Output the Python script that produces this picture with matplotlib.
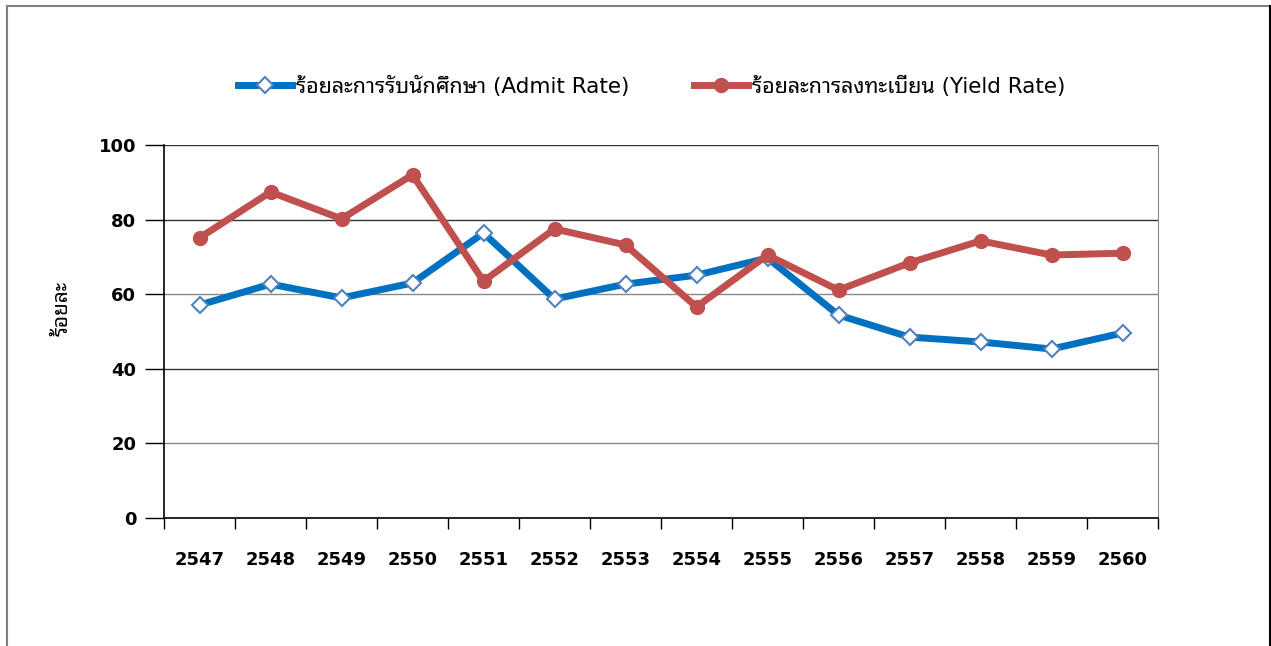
import matplotlib
matplotlib.use('Agg')
import matplotlib.pyplot as plt
from matplotlib import font_manager as fm
from matplotlib.lines import Line2D

years = ['2547', '2548', '2549', '2550', '2551', '2552', '2553',
         '2554', '2555', '2556', '2557', '2558', '2559', '2560']
admit_rate = [57.1, 62.7, 59.0, 63.0, 76.4, 58.7, 62.7, 65.1, 69.7, 54.4, 48.5, 47.2, 45.3, 49.6]
yield_rate = [75.1, 87.4, 80.2, 92.0, 63.5, 77.5, 73.2, 56.6, 70.5, 61.1, 68.4, 74.3, 70.5, 71.0]
admit_label = 'ร้อยละการรับนักศึกษา (Admit Rate)'
yield_label = 'ร้อยละการลงทะเบียน (Yield Rate)'
y_label = 'ร้อยละ'
y_ticks = [0, 20, 40, 60, 80, 100]

installed = {f.name for f in fm.fontManager.ttflist}
thai = next((n for n in ['Noto Sans Thai Looped', 'IBM Plex Sans Thai Looped', 'Noto Sans Thai',
                         'Sarabun', 'Anuphan', 'Bai Jamjuree'] if n in installed), 'DejaVu Sans')
latin = next((n for n in ['Tahoma', 'DejaVu Sans'] if n in installed), 'DejaVu Sans')
fam = [latin, thai]
plt.rcParams['font.family'] = fam

W, H = 1271, 646
fig = plt.figure(figsize=(W / 100, H / 100), dpi=100)
ax = fig.add_axes([164 / W, 1 - 518 / H, (1158 - 164) / W, (518 - 145) / H])

x = list(range(len(years)))
ax.plot(x, admit_rate, color='#0070C0', lw=5, marker='D', ms=8,
        mfc='white', mec='#4F81BD', mew=1.5, zorder=3, solid_joinstyle='round')
ax.plot(x, yield_rate, color='#C0504D', lw=5, marker='o', ms=10,
        mfc='#C0504D', mec='#C0504D', zorder=3, solid_joinstyle='round')

ax.set_xlim(-0.5, len(years) - 0.5)
ax.set_ylim(0, 100)
ax.set_yticks(y_ticks)
ax.set_yticklabels([str(v) for v in y_ticks], fontsize=13, fontweight='bold')
ax.set_xticks(x)
ax.set_xticklabels(years, fontsize=13, fontweight='bold')
ax.tick_params(axis='x', length=0, pad=24)
ax.set_xticks([i - 0.5 for i in range(len(years) + 1)], minor=True)
ax.tick_params(axis='x', which='minor', length=8, width=1, color='black', direction='out')
ax.tick_params(axis='y', length=14, width=1, color='black', direction='out', pad=6)

for v in y_ticks[1:]:
    ax.axhline(v, color='#333333' if v in (80, 40, 100) else '#888888', lw=1, zorder=1)

for s in ['left', 'bottom']:
    ax.spines[s].set_color('black')
    ax.spines[s].set_linewidth(1.2)
ax.spines['right'].set_color('#888888')
ax.spines['top'].set_visible(False)

fig.text(62 / W, 1 - 308 / H, y_label, rotation=90, ha='center', va='center',
         fontsize=15, fontweight='bold')

handles = [
    Line2D([], [], color='#0070C0', lw=5, marker='D', ms=8, mfc='white', mec='#4F81BD', mew=1.5),
    Line2D([], [], color='#C0504D', lw=5, marker='o', ms=10, mfc='#C0504D', mec='#C0504D'),
]
fig.legend(handles, [admit_label, yield_label], loc='center', bbox_to_anchor=(652 / W, 1 - 86 / H),
           ncol=2, frameon=False, fontsize=15.5, handlelength=2.5, columnspacing=3.0,
           handletextpad=0.2)

# outer border
fig.add_artist(Line2D([7 / W, 7 / W], [0, 1 - 6 / H], color='#808080', lw=1.5, transform=fig.transFigure))
fig.add_artist(Line2D([7 / W, 1269.5 / W], [1 - 6 / H, 1 - 6 / H], color='#808080', lw=1.5, transform=fig.transFigure))
fig.add_artist(Line2D([1269.5 / W, 1269.5 / W], [0, 1 - 6 / H], color='black', lw=1.5, transform=fig.transFigure))

fig.savefig('out.png', dpi=100, facecolor='white')
